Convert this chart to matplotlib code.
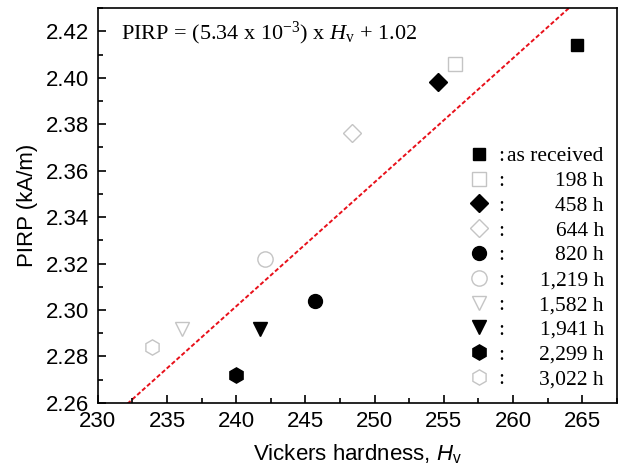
import matplotlib
matplotlib.use("Agg")
import matplotlib.pyplot as plt
from matplotlib.ticker import MultipleLocator

plt.rcParams['font.family'] = 'Liberation Sans'
plt.rcParams['mathtext.fontset'] = 'custom'
plt.rcParams['mathtext.rm'] = 'Liberation Serif'
plt.rcParams['mathtext.it'] = 'Liberation Serif:italic'
plt.rcParams['mathtext.sf'] = 'Liberation Sans:italic'

# aging time labels, hardness (Hv) and PIRP (kA/m)
labels = ['as received', '198 h', '458 h', '644 h', '820 h',
          '1,219 h', '1,582 h', '1,941 h', '2,299 h', '3,022 h']
hardness = [264.6, 255.8, 254.6, 248.4, 245.7, 242.1, 236.1, 241.7, 240.0, 233.9]
pirp = [2.414, 2.406, 2.398, 2.376, 2.304, 2.322, 2.292, 2.292, 2.272, 2.284]
markers = ['s', 's', 'D', 'D', 'o', 'o', 'v', 'v', 'h', 'h']
filled = [True, False, True, False, True, False, False, True, True, False]
sizes = [9, 10, 9, 9, 10, 11, 10, 10, 11, 11]

# linear fit PIRP = slope * Hv + intercept
slope = 5.34e-3
intercept = 1.02
fit_x = [230, 267.5]

fig = plt.figure(figsize=(6.23, 4.74), dpi=100)
ax = fig.add_axes((0.157, 0.150, 0.833, 0.833))

ax.plot(fit_x, [slope * x + intercept for x in fit_x], color='#e8101a',
        linestyle=(0, (2.2, 1.2)), linewidth=1.4, zorder=1)

handles = []
for x, y, m, f, s in zip(hardness, pirp, markers, filled, sizes):
    if f:
        h, = ax.plot(x, y, linestyle='none', marker=m, markersize=s,
                     markerfacecolor='black', markeredgecolor='black', zorder=3)
    else:
        h, = ax.plot(x, y, linestyle='none', marker=m, markersize=s,
                     markerfacecolor='white', markeredgecolor='#c4c4c4',
                     markeredgewidth=1.0, zorder=3)
    handles.append(h)

ax.set_xlim(230, 267.5)
ax.set_ylim(2.26, 2.43)
ax.xaxis.set_major_locator(MultipleLocator(5))
ax.xaxis.set_minor_locator(MultipleLocator(2.5))
ax.yaxis.set_major_locator(MultipleLocator(0.02))
ax.yaxis.set_minor_locator(MultipleLocator(0.01))
ax.yaxis.set_major_formatter(matplotlib.ticker.FormatStrFormatter('%.2f'))
ax.tick_params(which='both', direction='in', top=False, right=False,
               labelsize=16, width=1.2, pad=6)
ax.tick_params(which='major', length=6)
ax.tick_params(which='minor', length=3.5)
for sp in ax.spines.values():
    sp.set_linewidth(1.2)

ax.set_xlabel(r'Vickers hardness, $\mathsf{H}_{\mathdefault{v}}$', fontsize=16, labelpad=7)
ax.set_ylabel('PIRP (kA/m)', fontsize=16, labelpad=6)

ax.text(0.045, 0.935,
        r'PIRP = (5.34 x 10$^{\mathdefault{-3}}$) x $\mathit{H}_{\mathrm{v}}$ + 1.02',
        transform=ax.transAxes, family='Liberation Serif', fontsize=16,
        ha='left', va='center')

leg = ax.legend(handles, [':'] * len(handles), loc='upper right',
                bbox_to_anchor=(0.80, 0.672), frameon=False,
                prop={'family': 'Liberation Serif', 'size': 15.5},
                handlelength=1.0, handletextpad=0.4, labelspacing=0.22,
                borderaxespad=0)

# right-aligned aging time next to each legend colon
fig.canvas.draw()
inv = ax.transAxes.inverted()
for t, lab in zip(leg.get_texts(), labels):
    bb = t.get_window_extent()
    _, ya = inv.transform((0, (bb.y0 + bb.y1) / 2))
    if lab == 'as received':
        xa, _ = inv.transform((bb.x1 + 3, 0))
        ax.text(xa, ya, lab, transform=ax.transAxes, family='Liberation Serif',
                fontsize=15.5, ha='left', va='center')
    else:
        ax.text(0.975, ya, lab, transform=ax.transAxes, family='Liberation Serif',
                fontsize=15.5, ha='right', va='center')

fig.savefig('out.png', dpi=100)
